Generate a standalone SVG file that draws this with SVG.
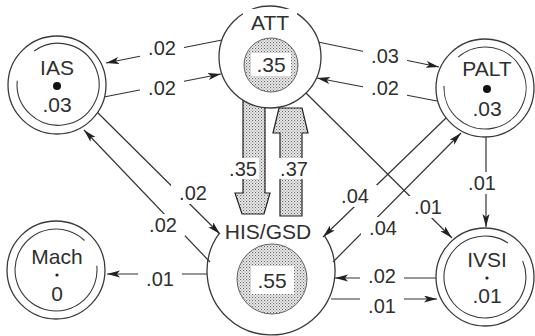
<svg xmlns="http://www.w3.org/2000/svg" width="535" height="336" viewBox="0 0 535 336">
<defs>
<pattern id="stip" width="3" height="3" patternUnits="userSpaceOnUse">
<rect width="3" height="3" fill="#ededed"/>
<rect x="0" y="0" width="1.1" height="1.1" fill="#666"/>
<rect x="1.5" y="1.5" width="1.1" height="1.1" fill="#888"/>
</pattern>
<marker id="ah" markerUnits="userSpaceOnUse" markerWidth="14" markerHeight="8" refX="13" refY="3.5" orient="auto">
<path d="M0,0 L13,3.5 L0,7 L3,3.5 z" fill="#222"/>
</marker>
<style>
.ln{stroke:#333;stroke-width:1.2;fill:none;marker-end:url(#ah)}
.bg{fill:#fff}
.t{font-family:"Liberation Sans",Arial,sans-serif;font-size:20px;fill:#2f2f2f;text-anchor:middle}
.nt{font-family:"Liberation Sans",Arial,sans-serif;font-size:21px;fill:#2f2f2f;text-anchor:middle}
.oc{fill:#fff;stroke:#3a3a3a;stroke-width:1.3}
.ic{fill:none;stroke:#3a3a3a;stroke-width:1.1}
.sh{fill:url(#stip);stroke:#555;stroke-width:0.9}
.fat{fill:url(#stip);stroke:#222;stroke-width:1.2}
</style>
</defs>

<g id="connectors">
<line class="ln" x1="222" y1="40" x2="106" y2="63"/>
<line class="ln" x1="104" y1="97" x2="221" y2="74"/>
<line class="ln" x1="318" y1="42" x2="439" y2="67"/>
<line class="ln" x1="437" y1="101" x2="317" y2="78"/>
<line class="ln" x1="97" y1="112" x2="220" y2="234"/>
<line class="ln" x1="210" y1="262" x2="84" y2="130"/>
<line class="ln" x1="207" y1="274" x2="107" y2="274"/>
<line class="ln" x1="446" y1="118" x2="323" y2="237"/>
<line class="ln" x1="333" y1="262" x2="461" y2="133"/>
<line class="ln" x1="306" y1="93" x2="452" y2="238"/>
<line class="ln" x1="486" y1="137" x2="486" y2="227"/>
<line class="ln" x1="436" y1="278" x2="335" y2="278"/>
<line class="ln" x1="331" y1="299" x2="437" y2="299"/>
<polygon class="fat" points="243,95 265,95 265,193 270,193 264,214 242,214 235,193 243,193"/>
<polygon class="fat" points="280,216 302,216 302,133 308,133 302,108 279,108 273,133 280,133"/>
<g>
<rect class="bg" x="140" y="37" width="44" height="22"/><text class="t" x="162" y="55">.02</text>
<rect class="bg" x="140" y="77" width="44" height="22"/><text class="t" x="162" y="95">.02</text>
<rect class="bg" x="363" y="45" width="44" height="22"/><text class="t" x="385" y="63">.03</text>
<rect class="bg" x="363" y="77" width="44" height="22"/><text class="t" x="385" y="95">.02</text>
<rect class="bg" x="171" y="182" width="44" height="22"/><text class="t" x="193" y="200">.02</text>
<rect class="bg" x="141" y="214" width="44" height="22"/><text class="t" x="163" y="232">.02</text>
<rect class="bg" x="138" y="268" width="44" height="22"/><text class="t" x="160" y="286">.01</text>
<rect class="bg" x="333" y="185" width="44" height="22"/><text class="t" x="355" y="203">.04</text>
<rect class="bg" x="361" y="217" width="44" height="22"/><text class="t" x="383" y="235">.04</text>
<rect class="bg" x="406" y="196" width="44" height="22"/><text class="t" x="428" y="214">.01</text>
<rect class="bg" x="462" y="172" width="40" height="22"/><text class="t" x="482" y="190">.01</text>
<rect class="bg" x="360" y="265" width="44" height="22"/><text class="t" x="382" y="283">.02</text>
<rect class="bg" x="360" y="295" width="44" height="22"/><text class="t" x="382" y="313">.01</text>
<rect class="bg" x="227" y="158" width="32" height="21"/><text class="t" x="243" y="176">.35</text>
<rect class="bg" x="278" y="158" width="32" height="21"/><text class="t" x="294" y="176">.37</text>
</g>
</g>

<g id="IAS">
<circle class="oc" cx="57" cy="85" r="49"/>
<path class="ic" d="M17.2,80.8 A41,41 0 1 0 34.1,51.0"/>
<text class="nt" x="57" y="75">IAS</text>
<circle cx="57" cy="86" r="4" fill="#111"/>
<text class="nt" x="57" y="112">.03</text>
</g>

<g id="ATT">
<circle class="oc" cx="270" cy="57" r="51"/>
<rect class="bg" x="243" y="9" width="54" height="25"/>
<text class="nt" x="270" y="30">ATT</text>
<circle class="sh" cx="271" cy="65" r="27"/>
<rect class="bg" x="251" y="53" width="40" height="23"/>
<text class="nt" x="271" y="72">.35</text>
</g>

<g id="PALT">
<circle class="oc" cx="485" cy="88" r="49"/>
<path class="ic" d="M444.1,85.9 A41,41 0 1 0 458.1,57.1"/>
<text class="nt" x="487" y="76">PALT</text>
<circle cx="487" cy="89" r="4" fill="#111"/>
<text class="nt" x="487" y="116">.03</text>
</g>

<g id="HIS_GSD">
<path class="oc" style="fill:none" d="M219.2,233.4 A64,64 0 1 0 324.7,236.1"/>
<text class="nt" x="268" y="239">HIS/GSD</text>
<circle class="sh" cx="272" cy="279" r="35"/>
<rect class="bg" x="251" y="266" width="43" height="28"/>
<text class="nt" x="272" y="288">.55</text>
</g>

<g id="Mach">
<circle class="oc" cx="56" cy="270" r="49"/>
<path class="ic" d="M84.5,240.5 A41,41 0 1 0 96.8,265.7"/>
<text class="nt" x="57" y="264">Mach</text>
<circle cx="57" cy="275" r="1.6" fill="#222"/>
<text class="nt" x="57" y="301">0</text>
</g>

<g id="IVSI">
<circle class="oc" cx="485" cy="277" r="49"/>
<path class="ic" d="M507.9,243.0 A41,41 0 1 0 522.7,261.0"/>
<text class="nt" x="487" y="267">IVSI</text>
<circle cx="487" cy="278" r="1.6" fill="#222"/>
<text class="nt" x="487" y="303">.01</text>
</g>
</svg>
